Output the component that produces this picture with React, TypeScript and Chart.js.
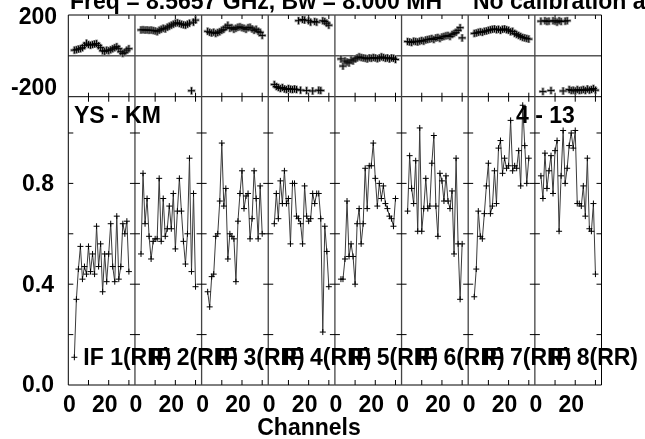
import { useEffect, useRef } from "react";
import { Chart, registerables } from "chart.js";

Chart.register(...registerables);

// ---------- data ----------
const IF_LABELS = ["IF 1(RR)", "IF 2(RR)", "IF 3(RR)", "IF 4(RR)", "IF 5(RR)", "IF 6(RR)", "IF 7(RR)", "IF 8(RR)"];
const CHANNELS = [3, 4, 5, 6, 7, 8, 9, 10, 11, 12, 13, 14, 15, 16, 17, 18, 19, 20, 21, 22, 23, 24, 25, 26, 27, 28, 29, 30];
const PANEL_SPAN = 33; // channels per panel on the x axis

const AMP_1 = [0.11, 0.34, 0.46, 0.55, 0.42, 0.47, 0.44, 0.55, 0.45, 0.52, 0.44, 0.63, 0.47, 0.56, 0.37, 0.52, 0.41, 0.52, 0.64, 0.47, 0.41, 0.67, 0.42, 0.47, 0.64, 0.60, 0.65, 0.45];
const AMP_2 = [0.52, 0.84, 0.64, 0.74, 0.59, 0.50, 0.57, 0.58, 0.58, 0.82, 0.57, 0.74, 0.59, 0.62, 0.71, 0.62, 0.76, 0.54, 0.69, 0.82, 0.69, 0.57, 0.48, 0.60, 0.90, 0.45, 0.76, 0.39];
const AMP_3 = [0.37, 0.31, 0.43, 0.44, 0.59, 0.60, 0.73, 0.96, 0.71, 0.78, 0.50, 0.60, 0.59, 0.58, 0.41, 0.65, 0.76, 0.85, 0.70, 0.75, 0.76, 0.58, 0.66, 0.85, 0.74, 0.58, 0.79, 0.60];
const AMP_4 = [0.64, 0.76, 0.66, 0.81, 0.72, 0.85, 0.72, 0.74, 0.56, 0.80, 0.80, 0.67, 0.66, 0.64, 0.56, 0.79, 0.67, 0.65, 0.66, 0.76, 0.72, 0.76, 0.76, 0.66, 0.21, 0.63, 0.53, 0.39];
const AMP_5 = [0.42, 0.42, 0.50, 0.73, 0.51, 0.56, 0.51, 0.40, 0.64, 0.70, 0.56, 0.64, 0.86, 0.70, 0.87, 0.87, 0.96, 0.82, 0.71, 0.80, 0.74, 0.79, 0.72, 0.70, 0.67, 0.66, 0.63, 0.74];
const AMP_6 = [0.69, 0.91, 0.78, 0.72, 0.89, 0.61, 1.02, 0.61, 0.70, 0.82, 0.70, 0.71, 0.88, 0.99, 0.71, 0.59, 0.84, 0.81, 0.73, 0.83, 0.73, 0.70, 0.77, 0.52, 0.90, 0.56, 0.34, 0.56];
const AMP_7 = [0.35, 0.46, 0.69, 0.59, 0.58, 0.68, 0.79, 0.88, 0.68, 0.71, 0.85, 0.72, 0.94, 0.97, 0.84, 0.90, 0.86, 0.87, 1.05, 0.85, 0.87, 0.86, 0.93, 0.79, 1.11, 0.95, 0.80, 0.90];
const AMP_8 = [0.83, 0.74, 0.92, 0.78, 0.85, 0.91, 0.76, 0.93, 0.97, 0.61, 0.83, 1.01, 0.80, 0.86, 0.95, 1.00, 0.94, 1.01, 0.72, 0.72, 0.71, 0.79, 0.67, 0.90, 0.62, 0.61, 0.72, 0.44];

const PHASE_1 = [28, 30, 33, 35, 40, 50, 62, 55, 52, 55, 58, 60, 50, 40, 25, 22, 28, 25, 30, 35, 40, 45, 35, 20, 12, 18, 28, 35];
const PHASE_2 = [127, 128, 126, 127, 125, 126, 124, 122, 118, 125, 130, 135, 132, 140, 145, 150, 155, 160, 162, 158, 155, 152, 150, 155, 160, -171, 165, 175];
const PHASE_3 = [120, 115, 112, 116, 110, 114, 118, 125, 130, 140, 150, 135, 138, 130, 135, 140, 142, 138, 135, 130, 138, 140, 132, 125, 130, 120, 115, 100];
const PHASE_4 = [-140, -150, -155, -160, -155, -162, -165, -160, -163, -165, -162, -165, 172, -168, 178, 175, -170, 172, 165, -172, 168, 165, -168, -170, 172, 168, 160, 150];
const PHASE_5 = [-15, -50, -25, -30, -35, -20, -25, -15, -10, -5, -8, -10, -12, -15, -10, -12, -8, -10, -14, -10, -5, -8, -12, -10, -15, -10, -12, -18];
const PHASE_6 = [70, 68, 65, 72, 70, 68, 72, 75, 72, 78, 80, 82, 85, 80, 88, 90, 85, 92, 95, 98, 100, 95, 105, 110, 115, 125, 138, 88];
const PHASE_7 = [110, 112, 115, 118, 115, 120, 122, 125, 128, 130, 132, 128, 130, 125, 130, 132, 128, 125, 118, 120, 110, 105, 100, 95, 90, 88, 85, 82];
const PHASE_8 = [170, -175, 172, 168, 170, -170, 172, 170, 165, 172, 168, -172, 170, 172, -165, -170, -168, -172, -165, -170, -168, -165, -170, -162, -168, -165, -160, -168];

const AMPS = [AMP_1, AMP_2, AMP_3, AMP_4, AMP_5, AMP_6, AMP_7, AMP_8];
const PHASES = [PHASE_1, PHASE_2, PHASE_3, PHASE_4, PHASE_5, PHASE_6, PHASE_7, PHASE_8];

const AMP_TICKS = [0.2, 0.4, 0.6, 0.8, 1.0];
const AMP_TICK_LABELS = ["0.0", "0.4", "0.8"];
const PHASE_TICK_LABELS = ["200", "-200"];
const X_TICKS = [10, 20, 30];
const X_TICK_LABELS = ["0", "20"];

const TITLE_LEFT = "Freq = 8.5657 GHz, Bw = 8.000 MH";
const TITLE_RIGHT = "No calibration applied";
const BASELINE_LABEL = "YS - KM";
const TIME_LABEL = "4 - 13";
const X_TITLE = "Channels";

// ---------- layout ----------
const PHASE_MAX = 200;
const PHASE_MIN = -200;
const AMP_PANEL_TOP = 1.144;
const PHASE_FRACTION = 81.7 / 370; // share of the plot height used by the phase strip
const FONT = "bold 23px 'Liberation Sans', Arial, sans-serif";

const framePlugin = {
  id: "aipsFrame",
  beforeDatasetsDraw(chart: any) {
    const ctx = chart.ctx;
    const xs = chart.scales.x;
    const amp = chart.scales.amp;
    const ph = chart.scales.phase;
    const top = ph.getPixelForValue(PHASE_MAX);
    const mid = ph.getPixelForValue(PHASE_MIN);
    const zero = ph.getPixelForValue(0);
    const bottom = amp.getPixelForValue(0);
    const left = xs.getPixelForValue(0);
    const right = xs.getPixelForValue(IF_LABELS.length * PANEL_SPAN);
    ctx.save();
    ctx.lineWidth = 1;
    ctx.strokeStyle = "#000";
    ctx.beginPath();
    [top, mid, zero, bottom].forEach((y) => {
      ctx.moveTo(left, y);
      ctx.lineTo(right, y);
    });
    ctx.stroke();
    for (let i = 0; i <= IF_LABELS.length; i++) {
      const x = xs.getPixelForValue(i * PANEL_SPAN);
      ctx.strokeStyle = i === 0 || i === IF_LABELS.length ? "#000" : "#444";
      ctx.lineWidth = i === 0 || i === IF_LABELS.length ? 1 : 1.3;
      ctx.beginPath();
      ctx.moveTo(x, top);
      ctx.lineTo(x, bottom);
      ctx.stroke();
      ctx.strokeStyle = "#000";
      ctx.lineWidth = 1;
      ctx.beginPath();
      AMP_TICKS.forEach((v) => {
        const y = amp.getPixelForValue(v);
        ctx.moveTo(i === 0 ? x : x - 5, y);
        ctx.lineTo(i === IF_LABELS.length ? x : x + 5, y);
      });
      ctx.stroke();
    }
    ctx.strokeStyle = "#000";
    ctx.beginPath();
    for (let i = 0; i < IF_LABELS.length; i++) {
      X_TICKS.forEach((t) => {
        const x = xs.getPixelForValue(i * PANEL_SPAN + t);
        ctx.moveTo(x, top);
        ctx.lineTo(x, top + 4);
        ctx.moveTo(x, mid - 4);
        ctx.lineTo(x, mid + 5);
        ctx.moveTo(x, bottom);
        ctx.lineTo(x, bottom - 5);
      });
    }
    ctx.stroke();
    ctx.restore();
  },
  afterDraw(chart: any) {
    const ctx = chart.ctx;
    const xs = chart.scales.x;
    const amp = chart.scales.amp;
    const ph = chart.scales.phase;
    ctx.save();
    ctx.fillStyle = "#000";
    ctx.font = FONT;
    // title (clipped by the top and right edges, as in the original plot)
    ctx.textAlign = "left";
    ctx.textBaseline = "alphabetic";
    ctx.fillText(TITLE_LEFT, 70, 9);
    ctx.fillText(TITLE_RIGHT, 473, 9);
    // y labels
    ctx.textAlign = "right";
    ctx.textBaseline = "middle";
    AMP_TICK_LABELS.forEach((s) => {
      ctx.fillText(s, 54, amp.getPixelForValue(parseFloat(s)) + 1);
    });
    ctx.fillText(PHASE_TICK_LABELS[0], 57, ph.getPixelForValue(PHASE_MAX) + 3);
    ctx.fillText(PHASE_TICK_LABELS[1], 57, ph.getPixelForValue(PHASE_MIN) - 8);
    // x labels
    ctx.textAlign = "center";
    ctx.textBaseline = "alphabetic";
    for (let i = 0; i < IF_LABELS.length; i++) {
      X_TICK_LABELS.forEach((s) => {
        const v = parseFloat(s);
        const x = xs.getPixelForValue(i * PANEL_SPAN + v) + (v === 0 ? 1 : -4);
        ctx.fillText(s, x, 412);
      });
    }
    ctx.fillText(X_TITLE, 309, 435);
    // in-plot annotations
    ctx.textAlign = "left";
    ctx.fillText(BASELINE_LABEL, 74, 123);
    ctx.fillText(TIME_LABEL, 516, 123);
    for (let i = 0; i < IF_LABELS.length; i++) {
      const x = xs.getPixelForValue(i * PANEL_SPAN) + 15;
      ctx.fillText(IF_LABELS[i], x, 365);
    }
    ctx.restore();
  },
};

export default function App() {
  const canvasRef = useRef<HTMLCanvasElement | null>(null);

  useEffect(() => {
    if (!canvasRef.current) return;
    const datasets: any[] = [];
    AMPS.forEach((vals, i) => {
      datasets.push({
        type: "line",
        data: vals.map((v, k) => ({ x: i * PANEL_SPAN + CHANNELS[k], y: v })),
        xAxisID: "x",
        yAxisID: "amp",
        borderColor: "#3a3a3a",
        borderWidth: 1,
        pointStyle: "cross",
        pointRadius: 3,
        pointBorderColor: "#000",
        pointBorderWidth: 1,
        tension: 0,
        fill: false,
        order: 0,
      });
    });
    PHASES.forEach((vals, i) => {
      const pts = vals.map((v, k) => ({ x: i * PANEL_SPAN + CHANNELS[k], y: v }));
      datasets.push({
        type: "line",
        data: pts,
        xAxisID: "x",
        yAxisID: "phase",
        showLine: false,
        pointStyle: "cross",
        pointRadius: 3.5,
        pointBorderColor: "#000",
        pointBorderWidth: 1,
        order: 0,
      });
      datasets.push({
        type: "line",
        data: pts,
        xAxisID: "x",
        yAxisID: "phase",
        showLine: false,
        pointStyle: "cross",
        pointRadius: 4,
        pointBorderColor: "rgba(140,140,140,0.85)",
        pointBorderWidth: 3,
        order: 1,
      });
    });

    const chart = new Chart(canvasRef.current, {
      type: "line",
      data: { datasets },
      options: {
        responsive: false,
        animation: false,
        devicePixelRatio: 1,
        layout: { padding: { left: 68.3, right: 645 - 601.5, top: 15, bottom: 54 } },
        plugins: { legend: { display: false }, tooltip: { enabled: false }, title: { display: false } },
        scales: {
          x: { type: "linear", display: false, min: 0, max: IF_LABELS.length * PANEL_SPAN },
          amp: { type: "linear", display: false, min: 0, max: AMP_PANEL_TOP / (1 - PHASE_FRACTION) },
          phase: {
            type: "linear",
            display: false,
            min: PHASE_MAX - (PHASE_MAX - PHASE_MIN) / PHASE_FRACTION,
            max: PHASE_MAX,
          },
        },
      },
      plugins: [framePlugin],
    } as any);
    return () => chart.destroy();
  }, []);

  return (
    <div style={{ position: "fixed", left: 0, top: 0, width: 645, height: 439, background: "#fff" }}>
      <canvas ref={canvasRef} width={645} height={439} style={{ display: "block" }} />
    </div>
  );
}
